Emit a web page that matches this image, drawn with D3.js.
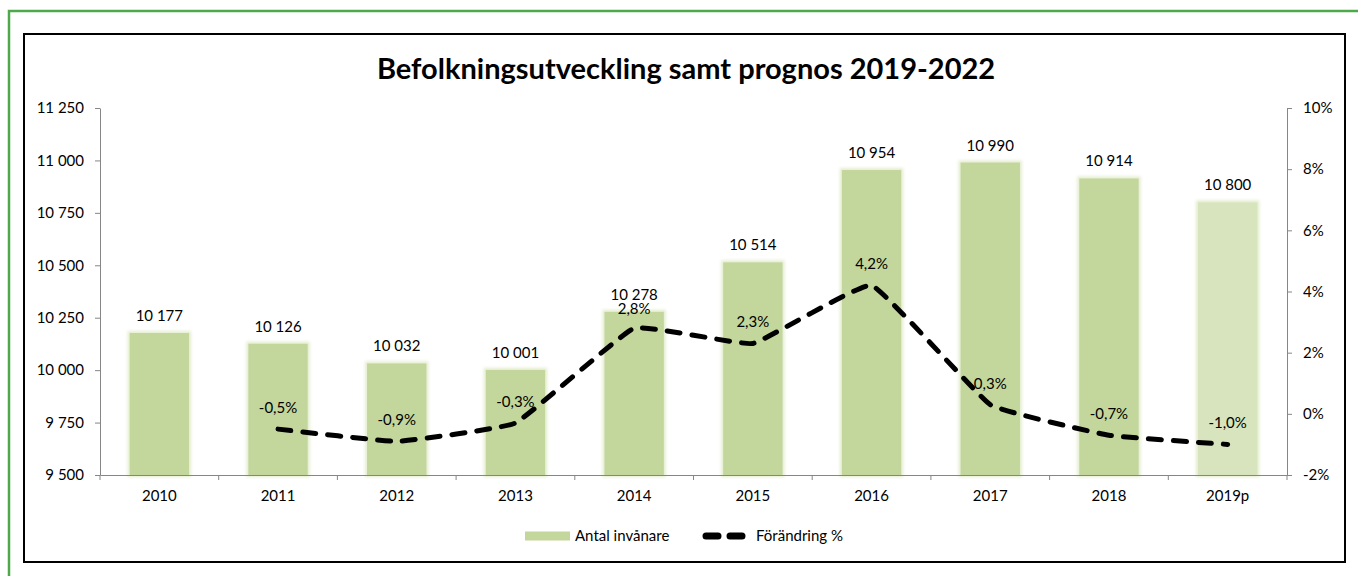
<!DOCTYPE html>
<html>
<head>
<meta charset="utf-8">
<script src="https://cdn.jsdelivr.net/npm/d3@7"></script>
<style>
  html, body { margin: 0; padding: 0; background: #fff; }
  svg { display: block; font-family: Lato, "Open Sans", sans-serif; }
</style>
</head>
<body>
<script>
// Values
const years = ["2010", "2011", "2012", "2013", "2014", "2015", "2016", "2017", "2018", "2019p"];
const population = [10177, 10126, 10032, 10001, 10278, 10514, 10954, 10990, 10914, 10800];
const change = [null, -0.5, -0.9, -0.3, 2.8, 2.3, 4.2, 0.3, -0.7, -1.0];
const leftTicks = [9500, 9750, 10000, 10250, 10500, 10750, 11000, 11250];
const rightTicks = [-2, 0, 2, 4, 6, 8, 10];

const width = 1358, height = 576;
const margin = { left: 100, right: 1358 - 1287, top: 108, bottom: 576 - 475 };

const svg = d3.select("body").append("svg")
  .attr("width", width)
  .attr("height", height);

// glow around the bars
const defs = svg.append("defs");
const glow = defs.append("filter").attr("id", "glow")
  .attr("x", "-20%").attr("y", "-20%").attr("width", "140%").attr("height", "140%");
glow.append("feMorphology").attr("in", "SourceAlpha").attr("operator", "dilate").attr("radius", 2).attr("result", "fat");
glow.append("feGaussianBlur").attr("in", "fat").attr("stdDeviation", 1.6).attr("result", "blur");
glow.append("feFlood").attr("flood-color", "#e4edcf");
glow.append("feComposite").attr("in2", "blur").attr("operator", "in").attr("result", "halo");
const merge = glow.append("feMerge");
merge.append("feMergeNode").attr("in", "halo");
merge.append("feMergeNode").attr("in", "SourceGraphic");

// frames
svg.append("path")
  .attr("d", `M9,${height} V11 H${width}`)
  .attr("fill", "none")
  .attr("stroke", "#4ea94b")
  .attr("stroke-width", 2.5);

svg.append("rect")
  .attr("x", 24).attr("y", 34)
  .attr("width", 1321).attr("height", 528)
  .attr("fill", "#fff")
  .attr("stroke", "#000")
  .attr("stroke-width", 2);

// title
svg.append("text")
  .attr("x", 686).attr("y", 79)
  .attr("text-anchor", "middle")
  .attr("font-weight", "bold")
  .attr("font-size", 29)
  .attr("fill", "#000")
  .text("Befolkningsutveckling samt prognos 2019-2022");

// scales
const x = d3.scaleBand()
  .domain(years)
  .range([margin.left, width - margin.right])
  .paddingInner(0.5)
  .paddingOuter(0.25);

const xb = d3.scaleBand().domain(years).range([margin.left, width - margin.right]);

const y = d3.scaleLinear()
  .domain([9500, 11250])
  .range([height - margin.bottom, margin.top]);

const y2 = d3.scaleLinear()
  .domain([-2, 10])
  .range([height - margin.bottom, margin.top]);

const fmtNum = d => d3.format(",")(d).replace(/,/g, " ");
const fmtPct = d => d3.format(".1f")(d).replace(".", ",").replace("−", "-") + "%";

// bars
svg.append("g")
  .selectAll("rect")
  .data(years)
  .join("rect")
  .attr("x", d => x(d))
  .attr("width", x.bandwidth())
  .attr("y", (d, i) => y(population[i]))
  .attr("height", (d, i) => y(9500) - y(population[i]))
  .attr("fill", d => d.endsWith("p") ? "#d7e4bd" : "#c3d69b")
  .attr("filter", "url(#glow)");

// axes
const axisColor = "#868686";
function styleAxis(g) {
  g.selectAll("path, line").attr("stroke", axisColor);
  g.selectAll("text").attr("fill", "#000").attr("font-size", 15).attr("font-family", "Lato, sans-serif");
}

svg.append("g")
  .attr("transform", `translate(${margin.left},0)`)
  .call(d3.axisLeft(y).tickValues(leftTicks).tickFormat(fmtNum).tickSize(5).tickPadding(11).tickSizeOuter(0))
  .call(styleAxis);

svg.append("g")
  .attr("transform", `translate(${width - margin.right},0)`)
  .call(d3.axisRight(y2).tickValues(rightTicks).tickFormat(d => d + "%").tickSize(5).tickPadding(11).tickSizeOuter(0))
  .call(styleAxis);

const xAxis = svg.append("g")
  .attr("transform", `translate(0,${height - margin.bottom})`)
  .call(d3.axisBottom(xb).tickSize(0).tickPadding(15).tickSizeOuter(0))
  .call(styleAxis);
// ticks at band boundaries
xAxis.append("g")
  .selectAll("line")
  .data(d3.range(years.length + 1))
  .join("line")
  .attr("x1", i => margin.left + i * xb.step())
  .attr("x2", i => margin.left + i * xb.step())
  .attr("y1", 0).attr("y2", 5)
  .attr("stroke", axisColor);

// bar value labels
svg.append("g")
  .selectAll("text")
  .data(years)
  .join("text")
  .attr("x", d => x(d) + x.bandwidth() / 2)
  .attr("y", (d, i) => y(population[i]) - 12)
  .attr("text-anchor", "middle")
  .attr("font-size", 15)
  .attr("fill", "#000")
  .text((d, i) => fmtNum(population[i]));

// change line
const pts = years.map((d, i) => ({ year: d, v: change[i] })).filter(d => d.v != null);
const line = d3.line()
  .x(d => xb(d.year) + xb.bandwidth() / 2)
  .y(d => y2(d.v))
  .curve(d3.curveCardinal.tension(0.72));

svg.append("path")
  .datum(pts)
  .attr("d", line)
  .attr("fill", "none")
  .attr("stroke", "#000")
  .attr("stroke-width", 5)
  .attr("stroke-linecap", "round")
  .attr("stroke-dasharray", "13 12");

svg.append("g")
  .selectAll("text")
  .data(pts)
  .join("text")
  .attr("x", d => xb(d.year) + xb.bandwidth() / 2)
  .attr("y", d => y2(d.v) - (d.year === "2014" ? 14 : 16))
  .attr("text-anchor", "middle")
  .attr("font-size", 15)
  .attr("fill", "#000")
  .text(d => fmtPct(d.v));

// legend
const legend = svg.append("g").attr("transform", "translate(0,536)");
legend.append("rect")
  .attr("x", 525).attr("y", -4.5)
  .attr("width", 45).attr("height", 9)
  .attr("fill", "#c3d69b");
legend.append("text")
  .attr("x", 575).attr("y", 5)
  .attr("font-size", 15).attr("fill", "#000")
  .text("Antal invånare");
legend.append("line")
  .attr("x1", 706).attr("x2", 746)
  .attr("y1", 0).attr("y2", 0)
  .attr("stroke", "#000")
  .attr("stroke-width", 7)
  .attr("stroke-linecap", "round")
  .attr("stroke-dasharray", "12 12");
legend.append("text")
  .attr("x", 756).attr("y", 5)
  .attr("font-size", 15).attr("fill", "#000")
  .text("Förändring %");
</script>
</body>
</html>
